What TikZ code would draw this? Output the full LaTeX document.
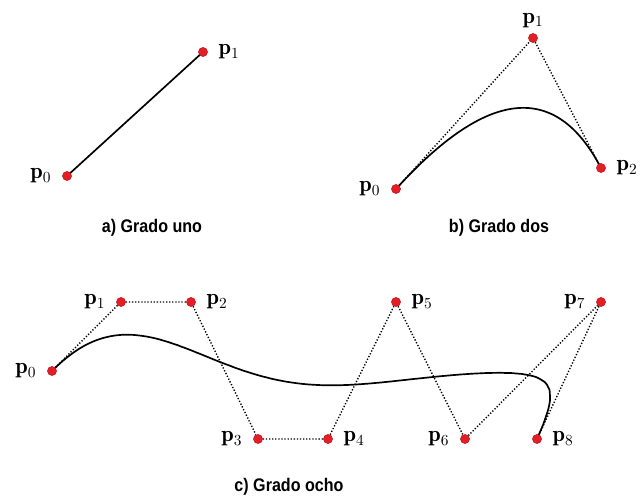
\documentclass[tikz,border=0pt]{standalone}
\usepackage{fontspec}
\newfontfamily\capfont[FakeStretch=0.88]{Liberation Sans}
\usetikzlibrary{positioning,calc}
\pgfdeclarelayer{background}
\pgfsetlayers{background,main}
\definecolor{ptred}{RGB}{228,30,36}
% degree-8 Bernstein sum in \x
\newcommand{\bezeight}[9]{(1-\x)^8*(#1)+8*\x*(1-\x)^7*(#2)+28*\x^2*(1-\x)^6*(#3)+56*\x^3*(1-\x)^5*(#4)+70*\x^4*(1-\x)^4*(#5)+56*\x^5*(1-\x)^3*(#6)+28*\x^6*(1-\x)^2*(#7)+8*\x^7*(1-\x)*(#8)+\x^8*(#9)}

\begin{document}
\begin{tikzpicture}[
  dot/.style={circle,fill=ptred,draw=ptred!75!black,line width=0.3pt,
              minimum size=2.3mm,inner sep=0pt},
  lbl/.style={font=\fontsize{16}{19}\selectfont,inner sep=1pt},
  caption/.style={font=\capfont\bfseries\fontsize{13}{15}\selectfont},
  curve/.style={line width=1.2pt},
  poly/.style={line width=1pt,dash pattern=on 0.9pt off 1.3pt}
]
\useasboundingbox (0,0) rectangle (16.05,12.425);

% a) Grado uno
\node[dot] (a0) at (1.675,8.025) {};
\node[dot] (a1) at (5.075,11.125) {};
\node[lbl,left=2.3mm of a0] (a0t) {$\mathbf{p}_0$};
\node[lbl,right=2.3mm of a1] (a1t) {$\mathbf{p}_1$};
\node[caption] (acap) at (3.8,6.725) {a) Grado uno};
\begin{pgfonlayer}{background}
\draw[curve] (a0.center) -- (a1.center);
\end{pgfonlayer}

% b) Grado dos
\node[dot] (b0) at (9.9,7.7) {};
\node[dot] (b1) at (13.325,11.475) {};
\node[dot] (b2) at (15.025,8.225) {};
\node[lbl,left=2.3mm of b0] (b0t) {$\mathbf{p}_0$};
\node[lbl,above=1mm of b1] (b1t) {$\mathbf{p}_1$};
\node[lbl,right=2.3mm of b2] (b2t) {$\mathbf{p}_2$};
\node[caption] (bcap) at (12.475,6.725) {b) Grado dos};
\begin{pgfonlayer}{background}
\draw[poly] (b0) -- (b1) -- (b2);
\draw[curve] (b0.center) .. controls ($(b0)!2/3!(b1)$) and ($(b2)!2/3!(b1)$) .. (b2.center);
\end{pgfonlayer}

% c) Grado ocho
\node[dot] (c0) at (1.3,3.15) {};
\node[dot] (c1) at (3.025,4.875) {};
\node[dot] (c2) at (4.775,4.875) {};
\node[dot] (c3) at (6.45,1.45) {};
\node[dot] (c4) at (8.2,1.45) {};
\node[dot] (c5) at (9.9,4.875) {};
\node[dot] (c6) at (11.625,1.45) {};
\node[dot] (c7) at (15.025,4.875) {};
\node[dot] (c8) at (13.425,1.45) {};
\node[lbl,left=2.3mm of c0] (c0t) {$\mathbf{p}_0$};
\node[lbl,left=2.3mm of c1] (c1t) {$\mathbf{p}_1$};
\node[lbl,right=2.3mm of c2] (c2t) {$\mathbf{p}_2$};
\node[lbl,left=2.3mm of c3] (c3t) {$\mathbf{p}_3$};
\node[lbl,right=2.3mm of c4] (c4t) {$\mathbf{p}_4$};
\node[lbl,right=2.3mm of c5] (c5t) {$\mathbf{p}_5$};
\node[lbl,left=2.3mm of c6] (c6t) {$\mathbf{p}_6$};
\node[lbl,left=2.3mm of c7] (c7t) {$\mathbf{p}_7$};
\node[lbl,right=2.3mm of c8] (c8t) {$\mathbf{p}_8$};
\node[caption] (ccap) at (7.225,0.25) {c) Grado ocho};
\begin{pgfonlayer}{background}
\draw[poly] (c0) -- (c1) -- (c2) -- (c3) -- (c4) -- (c5) -- (c6) -- (c7) -- (c8);
\draw[curve] plot[domain=0:1,samples=150,smooth]
  ({\bezeight{1.3}{3.025}{4.775}{6.45}{8.2}{9.9}{11.625}{15.025}{13.425}},
   {\bezeight{3.15}{4.875}{4.875}{1.45}{1.45}{4.875}{1.45}{4.875}{1.45}});
\end{pgfonlayer}
\end{tikzpicture}
\end{document}
